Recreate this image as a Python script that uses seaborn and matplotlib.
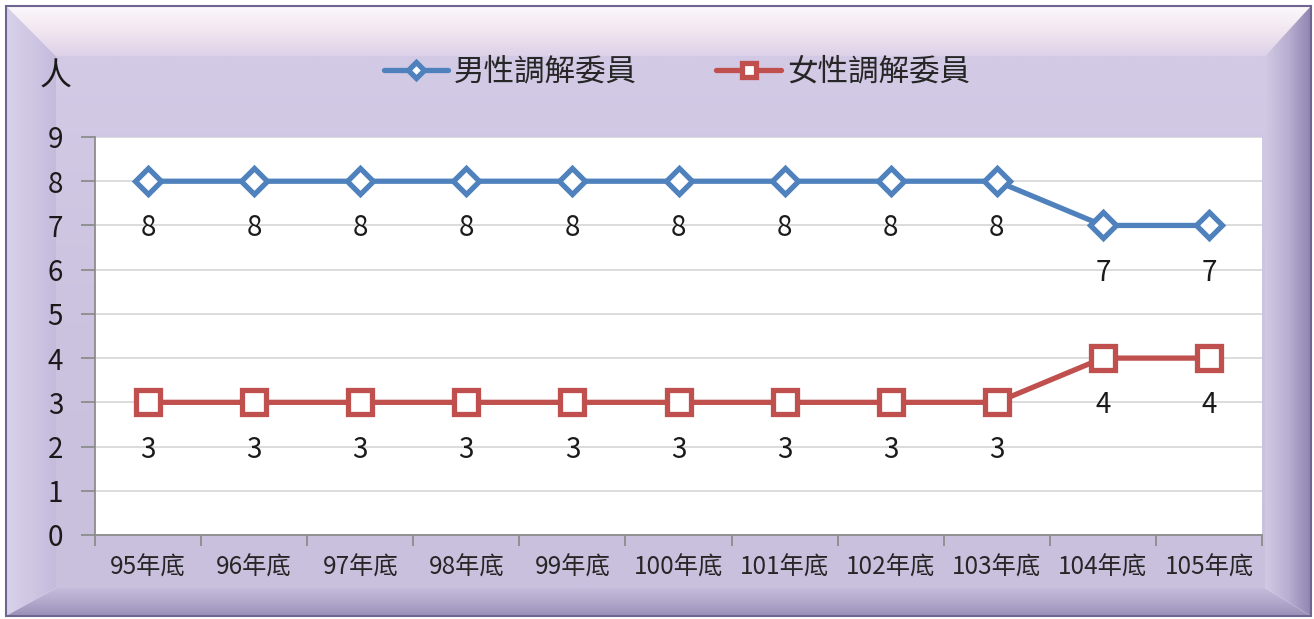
import numpy as np
import pandas as pd
import seaborn as sns
import matplotlib.pyplot as plt
from matplotlib.patches import Polygon, Rectangle
from matplotlib.colors import LinearSegmentedColormap

# chart data
years = ['95年底', '96年底', '97年底', '98年底', '99年底', '100年底',
         '101年底', '102年底', '103年底', '104年底', '105年底']
male = [8, 8, 8, 8, 8, 8, 8, 8, 8, 7, 7]
female = [3, 3, 3, 3, 3, 3, 3, 3, 3, 4, 4]
male_name = '男性調解委員'
female_name = '女性調解委員'
unit = '人'

blue = '#4F81BD'
red = '#C0504D'

sns.set_theme(style='white')
plt.rcParams['font.family'] = ['Noto Sans CJK TC', 'DejaVu Sans']

W, H = 1314, 619
fig = plt.figure(figsize=(W / 100, H / 100), dpi=100)
fig.patch.set_facecolor('white')

# bevelled lavender frame drawn in pixel coords
bg = fig.add_axes([0, 0, 1, 1], zorder=0)
bg.axis('off')
x0, x1, y0, y1 = 6, 1311, 6, 616
ix0, ix1, iy0, iy1 = 56, 1265, 56, 588


def grad_poly(pts, colors, vertical=True):
    poly = Polygon(pts, closed=True, facecolor='none', edgecolor='none')
    bg.add_patch(poly)
    cmap = LinearSegmentedColormap.from_list('g', colors)
    ramp = np.linspace(0, 1, 256)
    img = ramp[:, None] if vertical else ramp[None, :]
    xs = [p[0] for p in pts]
    ys = [p[1] for p in pts]
    im = bg.imshow(img, cmap=cmap, aspect='auto', interpolation='bilinear',
                   extent=(min(xs), max(xs), max(ys), min(ys)))
    im.set_clip_path(poly)


grad_poly([(ix0, iy0), (ix1, iy0), (ix1, iy1), (ix0, iy1)],
          ['#D3CAE6', '#CCC3E0', '#C9C0DE'])
grad_poly([(x0, y0), (x1, y0), (ix1, iy0), (ix0, iy0)],
          ['#FBF8FB', '#F2E6F0', '#DCD1E8'])
grad_poly([(x0, y0), (ix0, iy0), (ix0, iy1), (x0, y1)],
          ['#D8D2EA', '#CFC7E3', '#C4BBDC'], vertical=False)
grad_poly([(x1, y0), (x1, y1), (ix1, iy1), (ix1, iy0)],
          ['#D2CAE3', '#B9AFD2', '#8F85B0'], vertical=False)
grad_poly([(x0, y1), (x1, y1), (ix1, iy1), (ix0, iy1)],
          ['#C5BCDB', '#B2A8CC', '#9A90B8'])
bg.add_patch(Rectangle((x0, y0), x1 - x0, y1 - y0, facecolor='none',
                       edgecolor='#6E6590', linewidth=1.5))
bg.set_xlim(0, W)
bg.set_ylim(H, 0)

# plot area
ax = fig.add_axes([95 / W, 1 - 535 / H, (1262 - 95) / W, (535 - 137) / H], zorder=1)
ax.set_facecolor('white')

xpos = np.arange(len(years))
sns.lineplot(x=xpos, y=male, ax=ax, color=blue, linewidth=3.8, marker='D',
             markersize=13, markerfacecolor='white', markeredgecolor=blue,
             markeredgewidth=3.8, label=male_name, zorder=3)
sns.lineplot(x=xpos, y=female, ax=ax, color=red, linewidth=3.8, marker='s',
             markersize=17, markerfacecolor='white', markeredgecolor=red,
             markeredgewidth=3.8, label=female_name, zorder=3)

for xi, v in zip(xpos, male):
    ax.annotate(str(v), (xi, v), xytext=(0, -34), textcoords='offset points',
                ha='center', va='center', fontsize=20, color='#1A1A1A')
for xi, v in zip(xpos, female):
    ax.annotate(str(v), (xi, v), xytext=(0, -34), textcoords='offset points',
                ha='center', va='center', fontsize=20, color='#1A1A1A')

ax.set_xlim(-0.5, len(years) - 0.5)
ax.set_ylim(0, 9)
ax.set_yticks(range(10))
ax.set_xticks(xpos)
ax.set_xticklabels(years)
ax.set_xticks(np.arange(-0.5, len(years), 1), minor=True)
ax.grid(axis='y', color='#D9D9D9', linewidth=1.3)
ax.grid(axis='x', visible=False)
ax.set_axisbelow(True)
for s in ['top', 'right']:
    ax.spines[s].set_visible(False)
for s in ['left', 'bottom']:
    ax.spines[s].set_color('#8C8C8C')
    ax.spines[s].set_linewidth(1.3)
ax.tick_params(axis='y', length=10, width=1.3, color='#8C8C8C', pad=13,
               labelsize=20, labelcolor='#1A1A1A', left=True)
ax.tick_params(axis='x', which='major', length=0, pad=14, labelsize=17.5,
               labelcolor='#262626')
ax.tick_params(axis='x', which='minor', length=8, width=1.3, color='#8C8C8C',
               bottom=True)
ax.set_xlabel('')
ax.set_ylabel('')

handles, labels = ax.get_legend_handles_labels()
ax.get_legend().remove()
fig.legend(handles, labels, loc='center', bbox_to_anchor=(0.515, 0.884), ncol=2,
           frameon=False, fontsize=22, handlelength=2.1, handletextpad=0.2,
           columnspacing=2.6, markerscale=0.6)

fig.text(56 / W, 1 - 77 / H, unit, ha='center', va='center', fontsize=23,
         color='#1A1A1A')

fig.savefig('out.png', dpi=100)
